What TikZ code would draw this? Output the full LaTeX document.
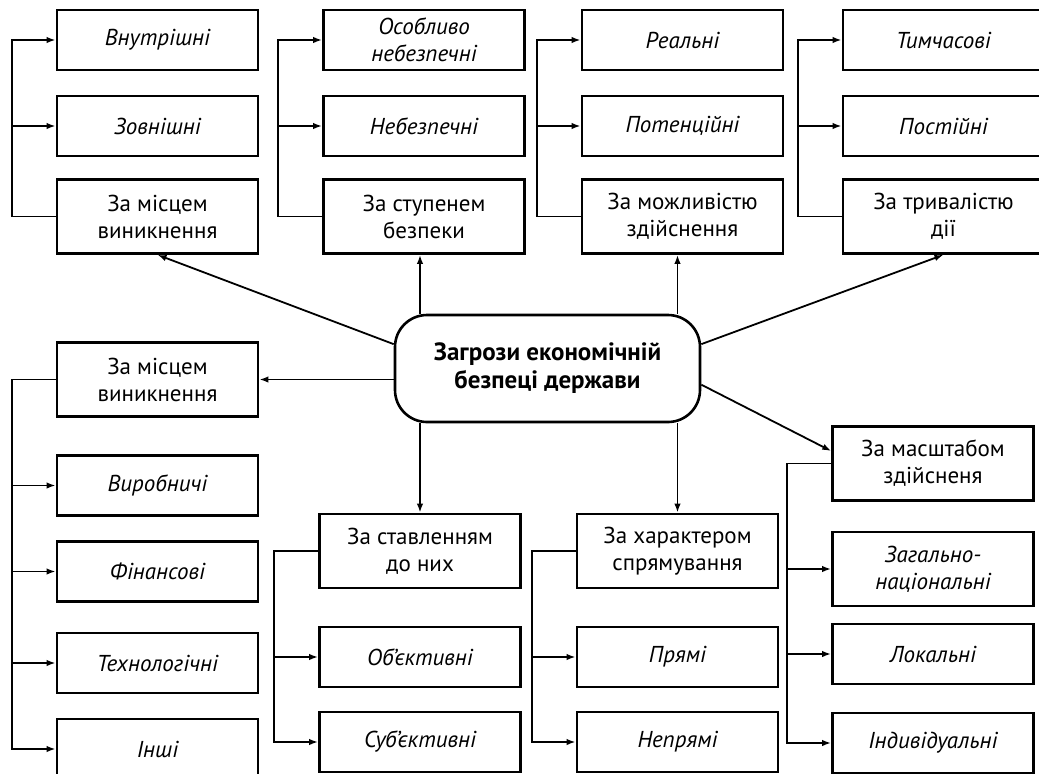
\documentclass[tikz,border=0pt]{standalone}
\usepackage{fontspec}
\setmainfont{PT Sans}
\usetikzlibrary{arrows.meta,calc}

\begin{document}
\begin{tikzpicture}[
    x=0.5pt, y=-0.5pt,
    >={Latex[length=4.5pt,width=3.2pt]},
    every node/.style={font=\fontsize{11.5}{13.5}\selectfont},
    blok/.style={rectangle, draw=black, line width=1.3pt, minimum width=100.5pt, minimum height=30pt, align=center, inner sep=1mm},
    dvi/.style={blok, minimum height=37pt},
    vyd/.style={blok, font=\fontsize{11.5}{13.5}\selectfont\itshape},
    linija/.style={line width=0.9pt},
    holov/.style={rectangle, rounded corners=16pt, draw=black, line width=1.3pt, minimum width=152.5pt, minimum height=53.5pt, align=center, font=\fontsize{12.5}{14}\selectfont\bfseries}
    ]
    \useasboundingbox (0,0) rectangle (1039,773);

% centre
\node[holov] (zagr) at (547.5,368.5) {Загрози економічній\\безпеці держави};

% top row
\node[vyd] (mis1) at (157.5,40) {Внутрішні};
\node[vyd] (mis2) at (157.5,126) {Зовнішні};
\node[dvi] (mis3) at (157.5,216.5) {За місцем\\виникнення};

\node[vyd] (stup1) at (424,40) {Особливо\\небезпечні};
\node[vyd] (stup2) at (424,126) {Небезпечні};
\node[dvi] (stup3) at (424,216.5) {За ступенем\\безпеки};

\node[vyd] (mozh1) at (682.5,40) {Реальні};
\node[vyd] (mozh2) at (682.5,126) {Потенційні};
\node[dvi] (mozh3) at (682.5,216.5) {За можливістю\\здійснення};

\node[vyd] (tryv1) at (943.5,40) {Тимчасові};
\node[vyd] (tryv2) at (943.5,126) {Постійні};
\node[dvi] (tryv3) at (943.5,216.5) {За тривалістю\\дії};

% bottom row
\node[dvi] (vyn1) at (157.5,379.5) {За місцем\\виникнення};
\node[vyd] (vyn2) at (157.5,485.5) {Виробничі};
\node[vyd] (vyn3) at (157.5,571.5) {Фінансові};
\node[vyd] (vyn4) at (157.5,663) {Технологічні};
\node[vyd] (vyn5) at (157.5,749) {Інші};

\node[dvi] (stav1) at (420,551) {За ставленням\\до них};
\node[vyd] (stav2) at (420,657) {Об’єктивні};
\node[vyd] (stav3) at (420,742) {Суб’єктивні};

\node[dvi] (khar1) at (677.5,551) {За характером\\спрямування};
\node[vyd] (khar2) at (677.5,657) {Прямі};
\node[vyd] (khar3) at (677.5,742) {Непрямі};

\node[dvi] (mash1) at (933,463.5) {За масштабом\\здійсненя};
\node[vyd, minimum height=37pt] (mash2) at (933,569) {Загально-\\національні};
\node[vyd] (mash3) at (933,654) {Локальні};
\node[vyd] (mash4) at (933,743) {Індивідуальні};

% from the centre
\draw[linija,->] (zagr.171) -- (mis3.south);
\draw[linija,->] (zagr.north -| stav1) -- (stav1 |- stup3.south);
\draw[linija,->] (zagr.north -| khar1) -- (khar1 |- mozh3.south);
\draw[linija,->] (zagr.9) -- (tryv3.south);
\draw[linija,->] (zagr.west |- vyn1) -- (vyn1.east);
\draw[linija,->] (zagr.south -| stav1) -- (stav1.north);
\draw[linija,->] (zagr.south -| khar1) -- (khar1.north);
\draw[linija,->] (zagr.-6) -- (mash1.173);

% brackets
\foreach \g in {mis,stup,mozh,tryv}{
    \draw[linija,->] (\g3.west) -- ++(-44,0) |- (\g1.west);
    \draw[linija,->] (\g3.west) ++(-44,0) |- (\g2.west);
}
\draw[linija,->] (vyn1.west) -- ++(-44,0) |- (vyn5.west);
\foreach \k in {2,3,4}
    \draw[linija,->] (vyn1.west) ++(-44,0) |- (vyn\k.west);
\draw[linija,->] (stav1.west) -- ++(-44,0) |- (stav3.west);
\draw[linija,->] (stav1.west) ++(-44,0) |- (stav2.west);
\draw[linija,->] (khar1.west) -- ++(-44,0) |- (khar3.west);
\draw[linija,->] (khar1.west) ++(-44,0) |- (khar2.west);
\draw[linija,->] (mash1.west) -- ++(-44,0) |- (mash4.west);
\draw[linija,->] (mash1.west) ++(-44,0) |- (mash2.west);
\draw[linija,->] (mash1.west) ++(-44,0) |- (mash3.west);
\end{tikzpicture}
\end{document}
